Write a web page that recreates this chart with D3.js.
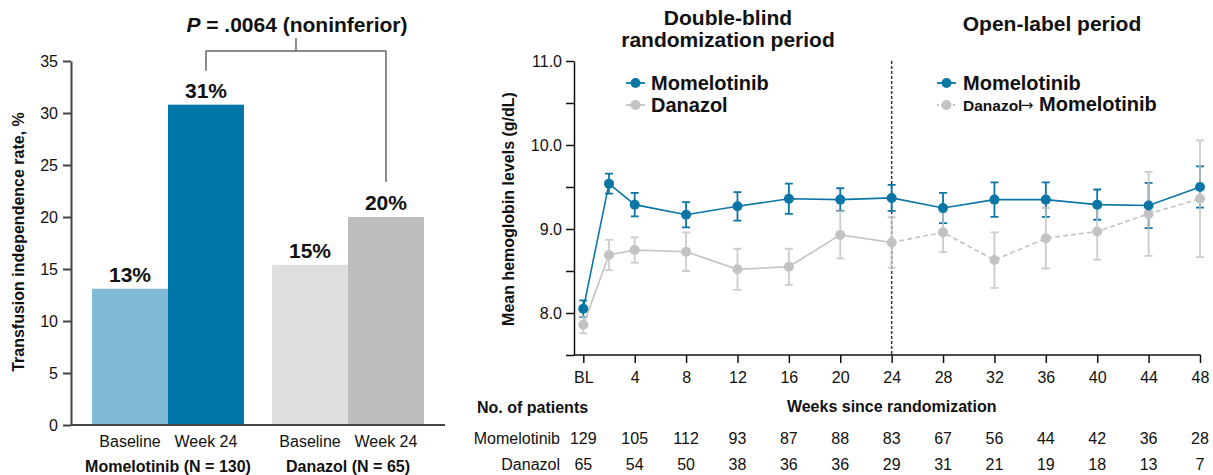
<!DOCTYPE html>
<html>
<head>
<meta charset="utf-8">
<script src="https://cdn.jsdelivr.net/npm/d3@7"></script>
<style>
  html, body { margin: 0; padding: 0; background: #fff; }
  svg { display: block; }
  text { font-family: "Liberation Sans", Arial, Helvetica, sans-serif; fill: #111; }
</style>
</head>
<body>
<svg id="chart" width="1213" height="475"></svg>
<script>
// ---- Transfusion independence (left panel) ----
const groups = ["Momelotinib (N = 130)", "Danazol (N = 65)"];
const timepoints = ["Baseline", "Week 24"];
const tiRate = [[13.1, 30.8], [15.4, 20.0]];           // % of patients
const barColors = [["#80b9d5", "#0076a8"], ["#dedede", "#bdbdbd"]];
const leftTicks = [0, 5, 10, 15, 20, 25, 30, 35];
const pLabel = ".0064 (noninferior)";

// ---- Hemoglobin over time (right panel) ----
const weeks = [0, 2, 4, 8, 12, 16, 20, 24, 28, 32, 36, 40, 44, 48];
const momMean = [8.05, 9.54, 9.29, 9.17, 9.27, 9.36, 9.35, 9.37, 9.25, 9.35, 9.35, 9.29, 9.28, 9.50];
const momErr  = [0.10, 0.12, 0.14, 0.15, 0.17, 0.18, 0.135, 0.155, 0.18, 0.205, 0.205, 0.18, 0.27, 0.245];
const danMean = [7.86, 8.69, 8.75, 8.73, 8.52, 8.55, 8.93, 8.84, 8.96, 8.63, 8.89, 8.97, 9.18, 9.36];
const danErr  = [0.10, 0.18, 0.15, 0.23, 0.245, 0.215, 0.28, 0.30, 0.235, 0.33, 0.36, 0.335, 0.50, 0.695];
const switchWeek = 24;
const weekTicks = [0, 4, 8, 12, 16, 20, 24, 28, 32, 36, 40, 44, 48];
const weekTickLabels = ["BL", "4", "8", "12", "16", "20", "24", "28", "32", "36", "40", "44", "48"];
const hbTicks = [7.5, 8, 8.5, 9, 9.5, 10, 10.5, 11];
const momPatients = [129, 105, 112, 93, 87, 88, 83, 67, 56, 44, 42, 36, 28];
const danPatients = [65, 54, 50, 38, 36, 36, 29, 31, 21, 19, 18, 13, 7];

const BLUE = "#0a76a5";
const GRAY = "#c3c3c3";
const svg = d3.select("#chart");

// ================= Left panel =================
const L = svg.append("g");
const yL = d3.scaleLinear().domain([0, 35]).range([425, 61]);
const xG = d3.scaleBand().domain(groups).range([71, 445]).paddingInner(0.156).paddingOuter(0.117);
const xT = d3.scaleBand().domain(timepoints).range([0, xG.bandwidth()]);

const yAxisL = L.append("g").attr("transform", "translate(71,0)")
  .call(d3.axisLeft(yL).tickValues(leftTicks).tickSize(8).tickSizeOuter(0).tickPadding(5));
yAxisL.selectAll("text").attr("font-size", 16).style("font-family", "Liberation Sans, Arial, sans-serif").attr("fill", "#222");
yAxisL.selectAll("line, path").attr("stroke", "#444").attr("stroke-width", 2);

groups.forEach((g, gi) => {
  const gx = xG(g);
  timepoints.forEach((t, ti) => {
    const v = tiRate[gi][ti];
    L.append("rect")
      .attr("x", gx + xT(t)).attr("y", yL(v))
      .attr("width", xT.bandwidth()).attr("height", yL(0) - yL(v))
      .attr("fill", barColors[gi][ti]);
    L.append("text")
      .attr("x", gx + xT(t) + xT.bandwidth() / 2).attr("y", yL(v) - 7)
      .attr("text-anchor", "middle").attr("font-size", 21).attr("font-weight", "bold")
      .text(Math.round(v) + "%");
    L.append("text")
      .attr("x", gx + xT(t) + xT.bandwidth() / 2).attr("y", 447)
      .attr("text-anchor", "middle").attr("font-size", 16).attr("fill", "#222")
      .text(t);
  });
  L.append("text")
    .attr("x", gx + xG.bandwidth() / 2).attr("y", 472)
    .attr("text-anchor", "middle").attr("font-size", 16).attr("font-weight", "bold")
    .text(g);
});

// baseline of the bar chart
L.append("line").attr("x1", xG.range()[0]).attr("x2", xG.range()[1])
  .attr("y1", yL(0)).attr("y2", yL(0)).attr("stroke", "#444").attr("stroke-width", 2);

// comparison bracket between the two Week 24 bars
const bxA = xG(groups[0]) + xT(timepoints[1]) + xT.bandwidth() / 2;
const bxB = xG(groups[1]) + xT(timepoints[1]) + xT.bandwidth() / 2;
const bTop = 51;
L.append("path")
  .attr("d", `M${bxA},${yL(tiRate[0][1]) - 34}V${bTop}H${bxB}V${yL(tiRate[1][1]) - 35}`)
  .attr("fill", "none").attr("stroke", "#666").attr("stroke-width", 1.5);
const bMid = (bxA + bxB) / 2;
L.append("line").attr("x1", bMid).attr("x2", bMid).attr("y1", bTop).attr("y2", 38)
  .attr("stroke", "#666").attr("stroke-width", 1.5);
const pText = L.append("text").attr("x", bMid + 1).attr("y", 32)
  .attr("text-anchor", "middle").attr("font-size", 21).attr("font-weight", "bold");
pText.append("tspan").attr("font-style", "italic").text("P");
pText.append("tspan").text(" = " + pLabel);

L.append("text")
  .attr("transform", "translate(24,242) rotate(-90)")
  .attr("text-anchor", "middle").attr("font-size", 16).attr("font-weight", "bold")
  .text("Transfusion independence rate, %");

// ================= Right panel =================
const R = svg.append("g");
const axisX0 = 574;
const xR = d3.scaleLinear().domain([0, 48]).range([583.3, 1200]);
const yR = d3.scaleLinear().domain([7.5, 11]).range([355, 61]);

const yAxisR = R.append("g").attr("transform", `translate(${axisX0},0)`)
  .call(d3.axisLeft(yR).tickValues(hbTicks).tickSize(8).tickSizeOuter(0).tickPadding(4)
    .tickFormat(d => Number.isInteger(d) ? d3.format(".1f")(d) : ""));
yAxisR.selectAll("text").attr("font-size", 16).style("font-family", "Liberation Sans, Arial, sans-serif").attr("fill", "#222");
yAxisR.selectAll("line, path").attr("stroke", "#111").attr("stroke-width", 1.5);

const xAxisR = R.append("g").attr("transform", "translate(0,355)")
  .call(d3.axisBottom(xR).tickValues(weekTicks).tickSize(8).tickSizeOuter(0).tickPadding(9)
    .tickFormat((d, i) => weekTickLabels[i]));
xAxisR.select(".domain").attr("d", `M${axisX0},0H${xR(48) + 0.5}`);
xAxisR.selectAll("text").attr("font-size", 16).style("font-family", "Liberation Sans, Arial, sans-serif").attr("fill", "#222");
xAxisR.selectAll("line, path").attr("stroke", "#111").attr("stroke-width", 1.5);

// start of open-label period
R.append("line").attr("x1", xR(switchWeek)).attr("x2", xR(switchWeek))
  .attr("y1", yR(11)).attr("y2", yR(7.5))
  .attr("stroke", "#333").attr("stroke-width", 1.5).attr("stroke-dasharray", "3,2");

function errorBars(g, mean, err, color, opacity) {
  const cap = 4;
  weeks.forEach((w, i) => {
    const x = xR(w), y1 = yR(mean[i] + err[i]), y2 = yR(mean[i] - err[i]);
    g.append("path")
      .attr("d", `M${x},${y1}V${y2}M${x - cap},${y1}H${x + cap}M${x - cap},${y2}H${x + cap}`)
      .attr("fill", "none").attr("stroke", color).attr("stroke-width", 1.8).attr("opacity", opacity);
  });
}

const pts = (mean) => weeks.map((w, i) => [w, mean[i]]);
const line = d3.line().x(d => xR(d[0])).y(d => yR(d[1]));

errorBars(R, momMean, momErr, BLUE, 1);
errorBars(R, danMean, danErr, GRAY, 0.85);

const danPts = pts(danMean);
R.append("path").datum(danPts.filter(d => d[0] <= switchWeek)).attr("d", line)
  .attr("fill", "none").attr("stroke", GRAY).attr("stroke-width", 1.6);
R.append("path").datum(danPts.filter(d => d[0] >= switchWeek)).attr("d", line)
  .attr("fill", "none").attr("stroke", GRAY).attr("stroke-width", 1.6).attr("stroke-dasharray", "5,3");
R.append("path").datum(pts(momMean)).attr("d", line)
  .attr("fill", "none").attr("stroke", BLUE).attr("stroke-width", 1.6);

R.selectAll("circle.dan").data(danPts).join("circle").attr("class", "dan")
  .attr("cx", d => xR(d[0])).attr("cy", d => yR(d[1])).attr("r", 5).attr("fill", GRAY);
R.selectAll("circle.mom").data(pts(momMean)).join("circle").attr("class", "mom")
  .attr("cx", d => xR(d[0])).attr("cy", d => yR(d[1])).attr("r", 5).attr("fill", BLUE);

R.append("text")
  .attr("transform", "translate(514,209) rotate(-90)")
  .attr("text-anchor", "middle").attr("font-size", 16).attr("font-weight", "bold")
  .text("Mean hemoglobin levels (g/dL)");

// period headings
const tDB = R.append("text").attr("text-anchor", "middle").attr("font-size", 21).attr("font-weight", "bold");
tDB.append("tspan").attr("x", 728).attr("y", 25).text("Double-blind");
tDB.append("tspan").attr("x", 728).attr("y", 47).text("randomization period");
R.append("text").attr("x", 1052).attr("y", 31).attr("text-anchor", "middle")
  .attr("font-size", 21).attr("font-weight", "bold").text("Open-label period");

// legends
function legendKey(x, y, color, dashed) {
  R.append("line").attr("x1", x).attr("x2", x + 19).attr("y1", y).attr("y2", y)
    .attr("stroke", color).attr("stroke-width", 1.8).attr("stroke-dasharray", dashed ? "2,2" : null);
  R.append("circle").attr("cx", x + 9.5).attr("cy", y).attr("r", 5).attr("fill", color);
}
legendKey(626, 83, BLUE, false);
legendKey(626, 105, GRAY, false);
R.append("text").attr("x", 651).attr("y", 90).attr("font-size", 20).attr("font-weight", "bold").text("Momelotinib");
R.append("text").attr("x", 651).attr("y", 112).attr("font-size", 20).attr("font-weight", "bold").text("Danazol");

legendKey(937, 83, BLUE, false);
legendKey(937, 105, GRAY, true);
R.append("text").attr("x", 963).attr("y", 90).attr("font-size", 20).attr("font-weight", "bold").text("Momelotinib");
R.append("text").attr("x", 963).attr("y", 111).attr("font-size", 15.5).attr("font-weight", "bold").text("Danazol");
R.append("text").attr("x", 1027).attr("y", 110).attr("text-anchor", "middle")
  .attr("font-size", 15).style("font-family", "DejaVu Sans, sans-serif").text("→");
R.append("text").attr("x", 1039).attr("y", 111).attr("font-size", 20).attr("font-weight", "bold").text("Momelotinib");

// axis title and number-at-risk table
R.append("text").attr("x", xR(24)).attr("y", 412).attr("text-anchor", "middle")
  .attr("font-size", 16).attr("font-weight", "bold").text("Weeks since randomization");
R.append("text").attr("x", 477).attr("y", 413)
  .attr("font-size", 16).attr("font-weight", "bold").text("No. of patients");

const rows = [["Momelotinib", momPatients, 444], ["Danazol", danPatients, 470]];
rows.forEach(([name, counts, y]) => {
  R.append("text").attr("x", 560).attr("y", y).attr("text-anchor", "end")
    .attr("font-size", 16).attr("fill", "#222").text(name);
  R.selectAll(null).data(counts).join("text")
    .attr("x", (d, i) => xR(weekTicks[i])).attr("y", y)
    .attr("text-anchor", "middle").attr("font-size", 16).attr("fill", "#222")
    .text(d => d);
});
</script>
</body>
</html>
